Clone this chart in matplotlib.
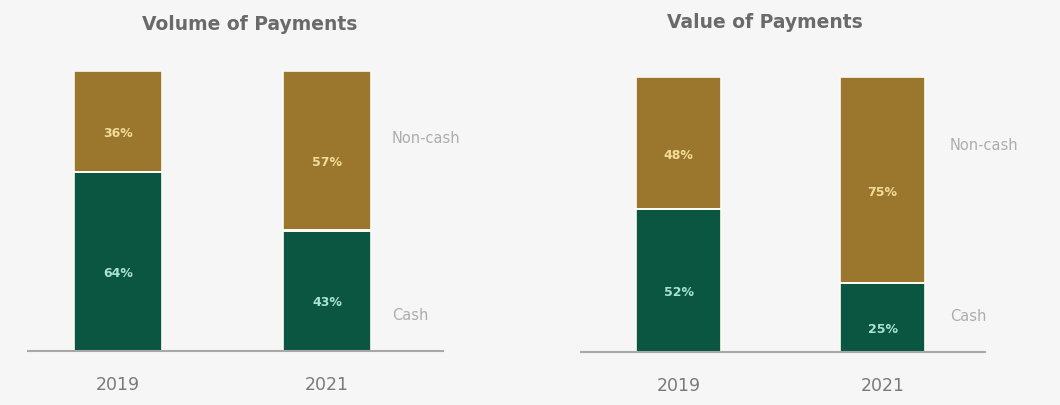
import matplotlib
matplotlib.use("Agg")
import matplotlib.pyplot as plt

# Shares of payments (percent) by year
years = ["2019", "2021"]
volume_cash = [64, 43]
volume_noncash = [36, 57]
value_cash = [52, 25]
value_noncash = [48, 75]

series_labels = ["Non-cash", "Cash"]
titles = ["Volume of Payments", "Value of Payments"]

BG = "#f6f6f6"
GOLD = "#9b772d"
GREEN = "#0a5641"
GOLD_TXT = "#f3dc98"
GREEN_TXT = "#a9e3d3"

W, H = 1060, 406
fig = plt.figure(figsize=(W / 100, H / 100), dpi=100, facecolor=BG)


def px_axes(x0, x1, ytop, ybot):
    return fig.add_axes([x0 / W, (H - ybot) / H, (x1 - x0) / W, (ybot - ytop) / H])


panels = [
    dict(ax=px_axes(28, 443, 72, 352), cash=volume_cash, noncash=volume_noncash,
         xlim=(-0.43, 1.555), width=0.42, title=titles[0], title_x=250, title_y=25,
         lab_x=1.31, noncash_y=76.4, cash_y=12.9),
    dict(ax=px_axes(581, 985, 78, 353), cash=value_cash, noncash=value_noncash,
         xlim=(-0.478, 1.502), width=0.417, title=titles[1], title_x=765, title_y=22,
         lab_x=1.33, noncash_y=75.6, cash_y=13.1),
]

for p in panels:
    ax = p["ax"]
    ax.set_facecolor(BG)
    x = list(range(len(years)))
    ax.bar(x, p["cash"], width=p["width"], color=GREEN, edgecolor="#fbfbf4", linewidth=1.2)
    ax.bar(x, p["noncash"], bottom=p["cash"], width=p["width"], color=GOLD,
           edgecolor="#fbfbf4", linewidth=1.2)
    # wider light gap between the two stacked segments
    ax.bar(x, [0.9] * len(x), bottom=[c - 0.45 for c in p["cash"]], width=p["width"],
           color="#fbfbf4", linewidth=0)
    for xi, c, n in zip(x, p["cash"], p["noncash"]):
        ax.annotate(f"{c}%", (xi, c / 2), xytext=(0, -8), textcoords="offset points",
                    ha="center", va="center", color=GREEN_TXT, fontsize=9, fontweight="bold")
        ax.annotate(f"{n}%", (xi, c + n / 2), xytext=(0, -8), textcoords="offset points",
                    ha="center", va="center", color=GOLD_TXT, fontsize=9, fontweight="bold")
    ax.text(p["lab_x"], p["noncash_y"], series_labels[0], ha="left", va="center",
            color="#adadad", fontsize=10.5)
    ax.text(p["lab_x"], p["cash_y"], series_labels[1], ha="left", va="center",
            color="#adadad", fontsize=10.5)
    ax.set_xlim(*p["xlim"])
    ax.set_ylim(0, 100)
    ax.set_xticks(x)
    ax.set_xticklabels(years, fontsize=12.5, color="#7a7a7a")
    ax.tick_params(axis="x", length=0, pad=17)
    ax.set_yticks([])
    for s in ["top", "right", "left"]:
        ax.spines[s].set_visible(False)
    ax.spines["bottom"].set_color("#a8a8a8")
    ax.spines["bottom"].set_linewidth(1.5)
    ax.spines["bottom"].set_zorder(3)
    fig.text(p["title_x"] / W, 1 - p["title_y"] / H, p["title"], ha="center", va="center",
             fontsize=13.5, fontweight="bold", color="#6a6a6a")

fig.savefig("out.png", dpi=100, facecolor=BG)
